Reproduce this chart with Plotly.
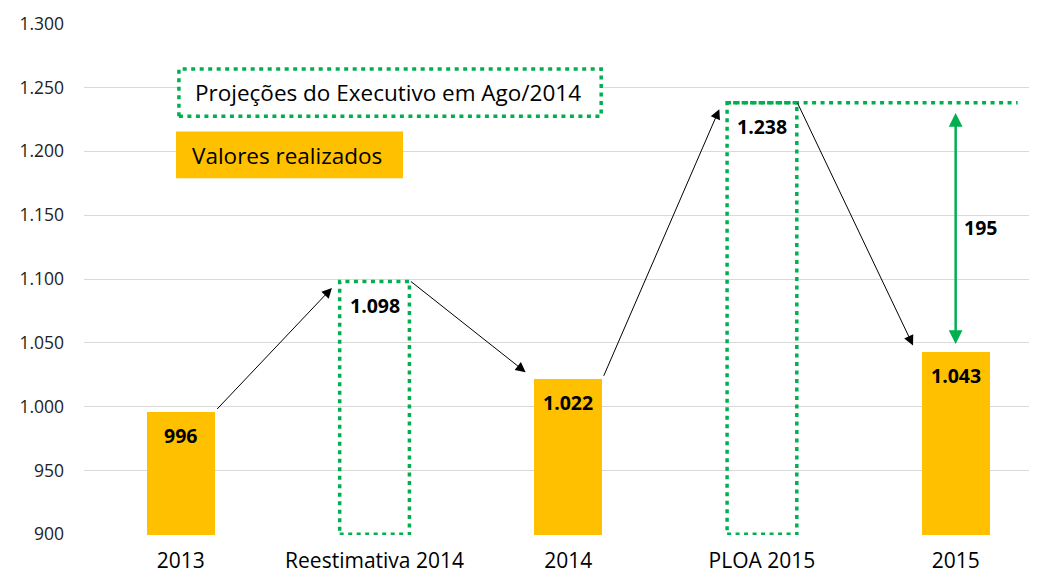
import plotly.graph_objects as go

# Dados do grafico
categorias = ["2013", "Reestimativa 2014", "2014", "PLOA 2015", "2015"]
valores = [996, 1098, 1022, 1238, 1043]
tipos = ["realizado", "projecao", "realizado", "projecao", "realizado"]
ticks_y = [900, 950, 1000, 1050, 1100, 1150, 1200, 1250, 1300]

LARANJA = "#FFC000"
VERDE = "#00B050"
FONTE = "Open Sans, Lato, sans-serif"


def fmt_br(v):
    return f"{v:,}".replace(",", ".")


def create_plot_projecoes(categorias, valores, tipos):
    """
    Crear el grafico de projecoes vs valores realizados

    Returns:
        fig: Grafico
    """
    fig = go.Figure()

    idx = list(range(len(categorias)))
    real_x = [i for i in idx if tipos[i] == "realizado"]
    real_y = [valores[i] for i in idx if tipos[i] == "realizado"]

    # Barras dos valores realizados
    fig.add_trace(go.Bar(x=real_x, y=real_y, width=0.35,
                         marker=dict(color=LARANJA, line=dict(width=0)),
                         hoverinfo="y", showlegend=False))

    dot = dict(color=VERDE, width=3.5, dash="4px,4.5px")

    # Caixas pontilhadas das projecoes
    for i in idx:
        if tipos[i] == "projecao":
            fig.add_shape(type="rect", x0=i - 0.18, x1=i + 0.18, y0=900, y1=valores[i],
                          line=dot, fillcolor="rgba(0,0,0,0)")

    # Linha pontilhada no nivel do PLOA 2015
    i_ploa = categorias.index("PLOA 2015")
    fig.add_shape(type="line", x0=i_ploa - 0.18, x1=4.32, y0=valores[i_ploa], y1=valores[i_ploa],
                  line=dot)

    # Rotulos de valor
    for i in idx:
        fig.add_annotation(x=i, y=valores[i], text=f"<b>{fmt_br(valores[i])}</b>",
                           showarrow=False, yshift=-24,
                           font=dict(size=19.5, color="black", family=FONTE))

    # Setas entre as colunas
    for i in idx[:-1]:
        y1 = valores[i + 1] - 5 if valores[i + 1] > valores[i] else valores[i + 1] + 5
        fig.add_annotation(x=i + 0.78, y=y1, ax=i + 0.18, ay=valores[i] + 1,
                           xref="x", yref="y", axref="x", ayref="y",
                           showarrow=True, arrowhead=2, arrowsize=2, arrowwidth=1,
                           arrowcolor="black", text="")

    # Diferenca PLOA 2015 x 2015
    i_2015 = categorias.index("2015")
    dif = valores[i_ploa] - valores[i_2015]
    fig.add_annotation(x=i_2015, y=valores[i_ploa] - 8, ax=i_2015, ay=valores[i_2015] + 5,
                       xref="x", yref="y", axref="x", ayref="y",
                       showarrow=True, arrowhead=2, startarrowhead=2, arrowside="end+start",
                       arrowsize=1.1, startarrowsize=1.1, arrowwidth=2.5,
                       arrowcolor=VERDE, text="")
    fig.add_annotation(x=i_2015 + 0.13, y=(valores[i_ploa] + valores[i_2015]) / 2,
                       text=f"<b>{dif}</b>", showarrow=False,
                       font=dict(size=19.5, color="black", family=FONTE))

    # Legenda manual
    fig.add_shape(type="rect", xref="x", yref="y", x0=-0.01, x1=2.17, y0=1227.5, y1=1264.5,
                  line=dot, fillcolor="white")
    fig.add_annotation(x=0.065, y=1246, xref="x", yref="y", xanchor="left",
                       text="Projeções do Executivo em Ago/2014", showarrow=False,
                       font=dict(size=22.5, color="black", family=FONTE))
    fig.add_shape(type="rect", xref="x", yref="y", x0=-0.025, x1=1.147, y0=1179, y1=1215.5,
                  line=dict(width=0), fillcolor=LARANJA)
    fig.add_annotation(x=0.045, y=1197, xref="x", yref="y", xanchor="left",
                       text="Valores realizados", showarrow=False,
                       font=dict(size=22.5, color="black", family=FONTE))

    fig.update_layout(
        width=1029, height=569,
        margin=dict(l=76, r=0, t=15, b=42),
        plot_bgcolor="white", paper_bgcolor="white",
        separators=",.",
        font=dict(family=FONTE, color="#222"),
        bargap=0,
        xaxis=dict(range=[-0.5, 4.42], tickvals=idx, ticktext=categorias,
                   showgrid=False, zeroline=False, showline=False, automargin=False,
                   tickfont=dict(size=21, color="black"), ticklabelstandoff=11),
        yaxis=dict(range=[899.5, 1300.5], tickvals=ticks_y, tickformat=",",
                   gridcolor="#D9D9D9", gridwidth=1, zeroline=False, showline=False,
                   automargin=False,
                   tickfont=dict(size=17.5, color="#222"), ticklabelstandoff=19),
    )

    return fig


fig = create_plot_projecoes(categorias, valores, tipos)
fig.write_html("out.html")
